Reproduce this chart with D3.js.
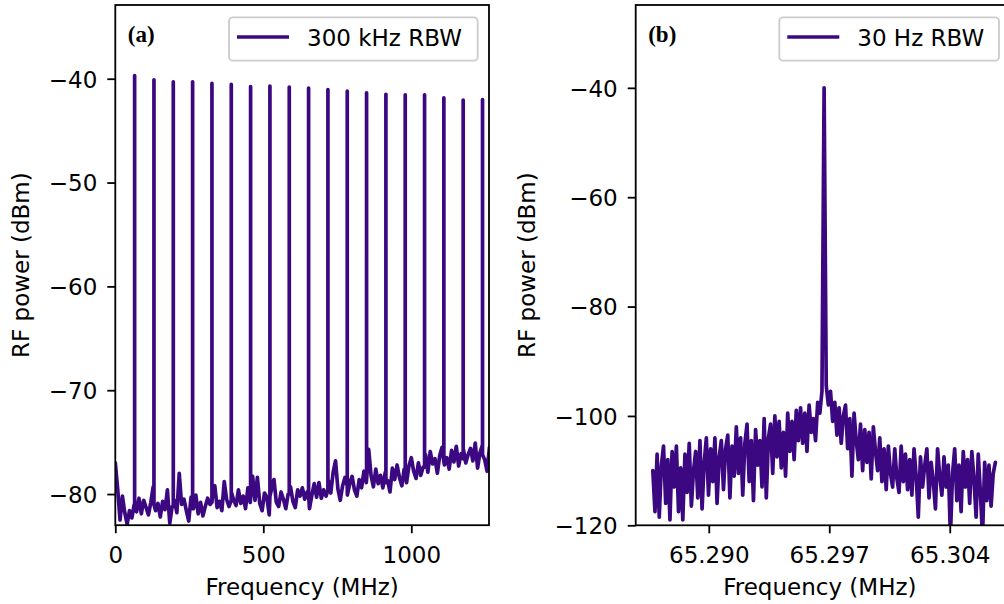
<!DOCTYPE html>
<html><head><meta charset="utf-8">
<script src="https://cdn.jsdelivr.net/npm/d3@7"></script>
<style>
html,body{margin:0;padding:0;background:#fff;}
svg{display:block;font-family:"DejaVu Sans",sans-serif;}
</style></head>
<body>
<svg id="chart" width="1004" height="604"></svg>
<script>
// ---------- Panel (a): 300 kHz RBW comb ----------
const floorStartMHz = 0;
const floorStepMHz = 8;
const floorA = [
 -77.0,-79.5,-82.5,-80.2,-81.8,-82.9,-81.6,-82.3,-81.0,-81.7,
 -80.4,-81.9,-80.6,-81.3,-82.0,-80.8,-79.3,-81.6,-80.9,-82.2,
 -80.7,-81.5,-79.6,-82.8,-81.2,-80.6,-81.8,-78.0,-81.0,-80.5,
 -81.6,-82.6,-80.3,-81.4,-80.1,-81.9,-80.8,-82.1,-81.2,-80.4,
 -81.0,-80.2,-79.2,-81.3,-80.7,-81.6,-78.8,-80.5,-81.2,-79.8,
 -80.6,-81.1,-79.6,-80.9,-80.2,-81.4,-79.4,-80.8,-78.3,-80.6,
 -78.4,-80.9,-81.6,-79.9,-80.3,-82.0,-79.5,-78.6,-80.8,-81.2,
 -79.8,-80.5,-81.4,-80.0,-79.3,-80.7,-81.3,-79.6,-80.2,-79.4,
 -80.5,-79.8,-81.4,-80.1,-79.0,-80.3,-78.9,-80.4,-79.6,-80.2,
 -78.7,-79.9,-77.9,-76.8,-79.5,-80.6,-79.2,-78.4,-80.1,-79.0,
 -78.3,-79.6,-80.2,-78.6,-79.4,-77.8,-78.9,-75.7,-78.2,-79.3,
 -77.6,-79.0,-78.2,-79.4,-77.9,-78.7,-79.8,-77.5,-78.6,-77.2,
 -78.4,-79.2,-77.6,-78.9,-77.3,-76.5,-77.8,-78.5,-77.0,-78.2,
 -77.4,-76.2,-77.9,-75.9,-77.1,-76.6,-78.0,-76.3,-75.5,-77.2,
 -76.5,-77.6,-75.8,-76.9,-75.4,-77.3,-76.1,-75.7,-77.0,-76.2,
 -75.6,-76.8,-75.1,-77.5,-76.0,-75.3,-76.7,-77.8,-75.5
];
const peakFreqA = [65.3,130.6,195.9,261.2,326.5,391.8,457.1,522.4,587.7,653.0,
                   718.3,783.6,848.9,914.2,979.5,1044.8,1110.0,1175.3,1240.6];
const peakTopA  = [-39.7,-40.1,-40.3,-40.3,-40.45,-40.55,-40.75,-40.7,-40.8,-40.9,
                   -41.05,-41.2,-41.35,-41.5,-41.55,-41.55,-41.85,-42.05,-42.0];
const peakBaseA = [-81.5,-81.0,-81.2,-81.4,-80.8,-80.6,-80.4,-80.2,-80.0,-80.1,
                   -79.6,-79.2,-78.6,-78.9,-78.2,-77.4,-76.9,-76.6,-76.2];
const xTicksA = [0, 500, 1000];
const yTicksA = [-80, -70, -60, -50, -40];

// ---------- Panel (b): 30 Hz RBW single line ----------
const startB = 65.28675, stopB = 65.30665;
const powerB = [
 -110.0,-117.5,-107.0,-118.5,-109.0,-105.5,-116.0,-108.0,-119.0,-106.5,
 -113.0,-105.5,-117.5,-109.5,-119.0,-107.0,-114.0,-105.0,-116.5,-110.0,
 -106.5,-115.0,-104.5,-117.0,-108.5,-104.0,-114.5,-106.0,-112.0,-104.0,
 -116.0,-107.5,-104.5,-113.5,-106.0,-103.5,-115.0,-105.5,-111.0,-102.0,
 -110.5,-104.0,-114.5,-105.0,-101.5,-112.0,-104.5,-115.5,-102.5,-109.0,
 -104.5,-113.0,-100.5,-115.0,-104.0,-101.5,-110.5,-100.0,-107.5,-101.0,
 -109.5,-103.0,-111.0,-99.5,-106.5,-101.0,-108.0,-99.0,-104.5,-98.5,
 -105.0,-99.5,-106.5,-98.0,-103.0,-100.5,-104.5,-97.5,-99.5,-95.5,
 -40.0,
 -94.5,-98.0,-95.5,-101.0,-97.5,-103.5,-98.5,-105.0,-100.0,
 -98.0,-106.0,-100.5,-111.0,-99.5,-104.5,-108.0,-101.5,-110.0,-102.5,
 -108.5,-103.0,-111.5,-102.0,-106.5,-110.0,-104.0,-112.0,-106.0,-113.5,
 -105.5,-110.5,-113.0,-106.0,-111.5,-114.0,-105.5,-112.0,-107.0,-113.5,
 -108.0,-114.5,-106.0,-111.0,-118.5,-107.5,-113.0,-109.0,-106.0,-115.0,
 -108.5,-112.0,-117.0,-106.0,-111.0,-114.5,-107.5,-113.0,-109.0,-122.0,
 -110.5,-106.0,-115.5,-109.0,-117.5,-106.5,-113.0,-108.0,-116.0,-106.5,
 -111.5,-118.5,-107.0,-114.0,-122.0,-108.5,-115.5,-109.0,-116.5,-110.5,-108.5
];
const xTicksB = [65.290, 65.297, 65.304];
const yTicksB = [-120, -100, -80, -60, -40];

const lineColor = "#3b0882";
const FONT = 23;
const LW = 3.7;

const svg = d3.select("#chart");

function panel(cfg) {
  const g = svg.append("g");
  const x = d3.scaleLinear().domain(cfg.xDomain).range([cfg.left, cfg.right]);
  const y = d3.scaleLinear().domain(cfg.yDomain).range([cfg.bottom, cfg.top]);

  const clipId = "clip" + cfg.id;
  svg.append("defs").append("clipPath").attr("id", clipId)
    .append("rect").attr("x", cfg.left).attr("y", cfg.top)
    .attr("width", cfg.right - cfg.left).attr("height", cfg.bottom - cfg.top);

  g.append("path").datum(cfg.data)
    .attr("clip-path", `url(#${clipId})`)
    .attr("fill", "none").attr("stroke", lineColor).attr("stroke-width", LW)
    .attr("stroke-linejoin", "round").attr("stroke-linecap", "round")
    .attr("d", d3.line().x(d => x(d[0])).y(d => y(d[1])));

  // spines
  g.append("rect").attr("x", cfg.left).attr("y", cfg.top)
    .attr("width", cfg.right - cfg.left).attr("height", cfg.bottom - cfg.top)
    .attr("fill", "none").attr("stroke", "#000").attr("stroke-width", 1.8);

  // x axis
  const xa = g.append("g").attr("transform", `translate(0,${cfg.bottom})`)
    .call(d3.axisBottom(x).tickValues(cfg.xTicks).tickFormat(cfg.xFmt).tickSizeInner(8).tickSizeOuter(0).tickPadding(8));
  xa.select(".domain").remove();
  xa.selectAll("line").attr("stroke", "#000").attr("stroke-width", 1.8);
  xa.selectAll("text").attr("font-size", FONT).attr("font-family", "DejaVu Sans").attr("fill", "#000")
    .attr("dy", null).attr("y", 0).attr("transform", "translate(0,37.5)");

  // y axis
  const ya = g.append("g").attr("transform", `translate(${cfg.left},0)`)
    .call(d3.axisLeft(y).tickValues(cfg.yTicks).tickFormat(d3.format("d")).tickSizeInner(8).tickSizeOuter(0).tickPadding(10));
  ya.select(".domain").remove();
  ya.selectAll("line").attr("stroke", "#000").attr("stroke-width", 1.8);
  ya.selectAll("text").attr("font-size", FONT).attr("font-family", "DejaVu Sans").attr("fill", "#000")
    .attr("dy", "0.36em");

  // axis labels
  g.append("text").attr("x", (cfg.left + Math.min(cfg.right, 1004)) / 2 + cfg.xLabelShift).attr("y", 595)
    .attr("text-anchor", "middle").attr("font-size", FONT).text("Frequency (MHz)");
  g.append("text").attr("transform", `translate(${cfg.yLabelX},${(cfg.top + cfg.bottom) / 2}) rotate(-90)`)
    .attr("text-anchor", "middle").attr("font-size", FONT).text("RF power (dBm)");

  // panel tag
  g.append("text").attr("x", cfg.left + 12.5).attr("y", 42)
    .attr("font-family", "Liberation Serif, Times New Roman, serif").attr("font-weight", "bold")
    .attr("font-size", FONT).text(cfg.tag);

  // legend
  const lg = g.append("g");
  lg.append("rect").attr("x", cfg.legX0).attr("y", 17.3).attr("width", cfg.legX1 - cfg.legX0).attr("height", 43.4)
    .attr("rx", 4).attr("fill", "#fff").attr("fill-opacity", 0.8).attr("stroke", "#cccccc").attr("stroke-width", 1.8);
  lg.append("line").attr("x1", cfg.legX0 + 8).attr("x2", cfg.legX0 + 60).attr("y1", 37).attr("y2", 37)
    .attr("stroke", lineColor).attr("stroke-width", LW);
  lg.append("text").attr("x", cfg.legX0 + 78).attr("y", 45.5).attr("font-size", FONT).text(cfg.legend);
}

// assemble panel (a) data: floor samples plus vertical comb lines
const dataA = floorA.map((v, i) => [floorStartMHz + i * floorStepMHz, v]);
peakFreqA.forEach((f, i) => {
  dataA.push([f, peakBaseA[i], 0], [f, peakTopA[i], 1], [f, peakBaseA[i], 2]);
});
dataA.sort((a, b) => a[0] - b[0] || (a[2] ?? -1) - (b[2] ?? -1));

const stepB = (stopB - startB) / (powerB.length - 1);
const dataB = powerB.map((v, i) => [startB + i * stepB, v]);

panel({
  id: "a", left: 115.3, right: 489, top: 5, bottom: 525.2,
  xDomain: [0, 1262.5], yDomain: [-83, -32.9],
  data: dataA, xTicks: xTicksA, yTicks: yTicksA, xFmt: d3.format("d"),
  xLabelShift: 0, yLabelX: 29, tag: "(a)", legend: "300 kHz RBW", legX0: 229, legX1: 477.7
});
panel({
  id: "b", left: 635.7, right: 1012.5, top: 5, bottom: 525.3,
  xDomain: [65.285755, 65.307645], yDomain: [-120, -24.85],
  data: dataB, xTicks: xTicksB, yTicks: yTicksB, xFmt: d3.format(".3f"),
  xLabelShift: 0, yLabelX: 535, tag: "(b)", legend: "30 Hz RBW", legX0: 779.3, legX1: 999
});
</script>
</body></html>
